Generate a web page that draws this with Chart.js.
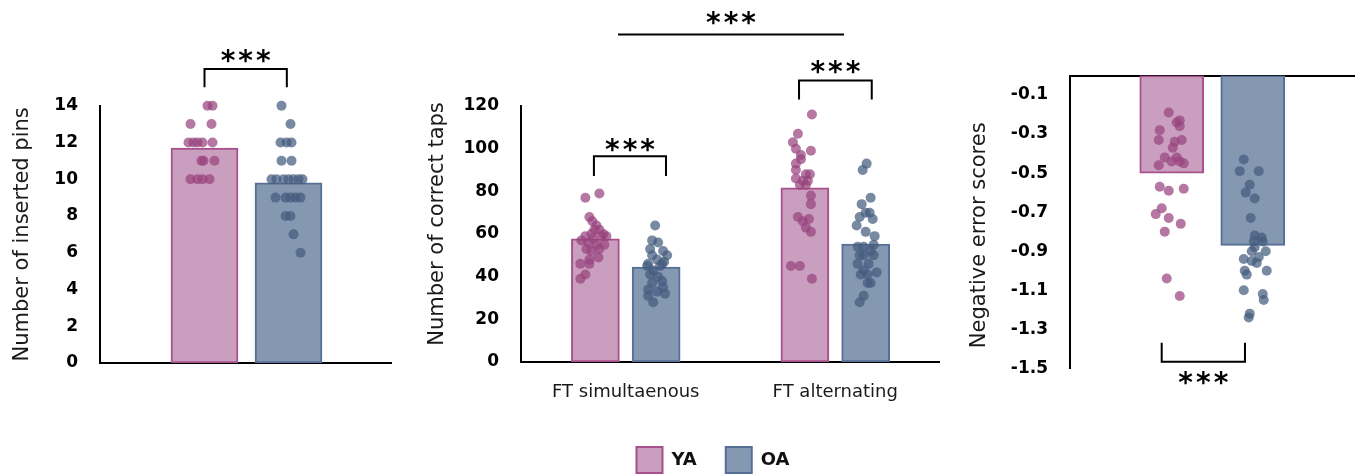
<!DOCTYPE html>
<html>
<head>
<meta charset="utf-8">
<title>Motor performance YA vs OA</title>
<script src="https://cdn.jsdelivr.net/npm/chart.js@4.4.1/dist/chart.umd.min.js"></script>
<style>
  html, body { margin: 0; padding: 0; background: #fff; }
  #wrap { position: relative; width: 1360px; height: 476px; overflow: hidden; }
  canvas { position: absolute; }
</style>
</head>
<body>
<div id="wrap">
  <canvas id="pins" width="1360" height="476" style="left:0;top:0"></canvas>
  <canvas id="taps" width="1360" height="476" style="left:0;top:0"></canvas>
  <canvas id="errors" width="1360" height="476" style="left:0;top:0"></canvas>
  <canvas id="legend" width="320" height="140" style="left:553px;top:418px"></canvas>
</div>
<script>
const groups = ['YA', 'OA'];

// Purdue pegboard: inserted pins
const pinsTicks = [0, 2, 4, 6, 8, 10, 12, 14];
const pinsMean = [11.7, 9.8];
const pinsYA = [14, 14, 13, 13, 12, 12, 12, 12, 12, 11, 11, 11, 10, 10, 10, 10];
const pinsOA = [14, 13, 12, 12, 12, 11, 11, 10, 10, 10, 10, 10, 10, 10, 9, 9, 9, 9, 9, 8, 8, 7, 6];

// finger tapping: correct taps
const tapCategories = ['FT simultaenous', 'FT alternating'];
const tapTicks = [0, 20, 40, 60, 80, 100, 120];
const tapMeanYA = [57.7, 81.6];
const tapMeanOA = [44.5, 55.3];
const tapSimYA = [79, 77, 68, 66, 64, 62, 62, 60, 60, 59, 59, 59, 58, 57, 56, 55, 55, 53, 53, 52, 49, 48, 46, 46, 41, 39];
const tapSimOA = [64, 57, 56, 53, 52, 50, 50, 48, 47, 46, 46, 45, 45, 43, 41, 40, 38, 37, 35, 34, 33, 32, 31, 28];
const tapAltYA = [116, 107, 103, 100, 99, 97, 95, 93, 90, 88, 88, 86, 85, 85, 83, 83, 78, 74, 68, 67, 66, 63, 61, 45, 45, 39];
const tapAltOA = [93, 90, 77, 74, 70, 70, 68, 67, 64, 61, 59, 55, 54, 54, 52, 50, 50, 50, 46, 46, 43, 42, 41, 41, 37, 37, 31, 28];

// negative error scores
const errTicks = [-1.5, -1.3, -1.1, -0.9, -0.7, -0.5, -0.3, -0.1];
const errMean = [-0.50, -0.87];
const errYA = [-0.19, -0.23, -0.24, -0.26, -0.28, -0.33, -0.33, -0.34, -0.37, -0.42, -0.42, -0.46, -0.44, -0.44, -0.45, -0.57, -0.59, -0.58, -0.68, -0.71, -0.73, -0.76, -0.80, -1.04, -1.13];
const errOA = [-0.43, -0.49, -0.49, -0.56, -0.60, -0.63, -0.73, -0.82, -0.83, -0.85, -0.85, -0.88, -0.90, -0.90, -0.94, -0.93, -0.95, -0.96, -1.00, -1.00, -1.02, -1.10, -1.12, -1.15, -1.22, -1.24];

// horizontal jitter of the dots, in pixels from the bar centre
const pinsYAJit = [3, 8, -14, 7, -16, -11, -7, -2, 8, -3, -1, 10, -14, -7, -2, 5];
const pinsOAJit = [-7, 2, -8, -2, 3, -7, 3, -17, -12, -5, 0, 5, 10, 14, -13, -3, 2, 7, 12, -3, 2, 5, 12];
const tapSimYAJit = [4, -10, -6, -3, 1, 4, -1, -4, 8, -10, 6, 11, -2, -14, -7, 1, 9, -9, 4, -4, 3, -6, -15, -6, -10, -15];
const tapSimOAJit = [-1, -4, 2, -6, 7, 11, -4, 1, 8, -8, 6, 4, -9, -3, -6, 2, 6, -4, 7, -8, 1, 9, -8, -3];
const tapAltYAJit = [7, -7, -12, -9, 6, -4, -4, -9, -9, 1, 5, -9, -2, 3, -5, 1, 6, 6, -7, 4, -2, 1, 6, -14, -5, 7];
const tapAltOAJit = [1, -3, 5, -4, 0, 4, -6, 7, -9, 0, 9, 8, -8, -2, 5, -6, -2, 8, -8, 3, -2, 11, -5, 2, 5, 2, -2, -6];
const errYAJit = [-3, 8, 5, 8, -12, 10, -13, 3, 1, -7, 5, -13, 0, 8, 12, -12, -3, 12, -10, -16, -3, 9, -7, -5, 8];
const errOAJit = [-9, -13, 6, -3, -7, 2, -2, 2, 9, 1, 10, 2, -1, 13, -9, 6, -1, 4, -8, 14, -6, -9, 10, 11, -3, -4];

const fillColors = ['#c99ebf', '#8598b1'];
const edgeColors = ['#a8508c', '#566f97'];
const dotColors = ['rgba(152, 68, 126, 0.72)', 'rgba(68, 92, 126, 0.72)'];
const nbsp = '\u00a0';

Chart.defaults.font.family = '"DejaVu Sans", sans-serif';
Chart.defaults.color = '#000';

// significance brackets with stars
const sigMarks = {
  id: 'sigMarks',
  afterDraw(chart, args, opts) {
    const { ctx } = chart;
    const x = chart.scales.x, y = chart.scales.y;
    ctx.save();
    ctx.lineWidth = 2;
    ctx.strokeStyle = '#000';
    ctx.fillStyle = '#000';
    ctx.font = 'bold 28px "DejaVu Sans"';
    ctx.letterSpacing = '3px';
    ctx.textAlign = 'center';
    ctx.textBaseline = 'alphabetic';
    const m = ctx.measureText('***');
    const mid = (m.actualBoundingBoxAscent - m.actualBoundingBoxDescent) / 2;
    (opts.items || []).forEach(b => {
      const x1 = x.getPixelForValue(b.from);
      const x2 = x.getPixelForValue(b.to);
      const yl = y.getPixelForValue(b.at);
      ctx.beginPath();
      if (b.leg !== undefined) {
        const yt = y.getPixelForValue(b.leg);
        ctx.moveTo(x1, yt);
        ctx.lineTo(x1, yl);
        ctx.lineTo(x2, yl);
        ctx.lineTo(x2, yt);
      } else {
        ctx.moveTo(x1, yl);
        ctx.lineTo(x2, yl);
      }
      ctx.stroke();
      ctx.fillText('***', (x1 + x2) / 2 + 1.5, yl - b.gap + mid);
    });
    ctx.restore();
  }
};

function bars(meansYA, meansOA, geo) {
  return [meansYA, meansOA].map((means, g) => ({
    type: 'bar',
    label: groups[g],
    data: means.map((v, i) => ({ x: i + 1 + (g ? geo.off : -geo.off), y: v })),
    backgroundColor: fillColors[g],
    borderColor: edgeColors[g],
    borderWidth: 2,
    borderSkipped: false,
    barThickness: geo.bar,
    grouped: false,
    order: 2
  }));
}

function dots(values, jitter, cat, g, geo) {
  return {
    type: 'scatter',
    data: values.map((v, i) => ({ x: cat + (g ? geo.off : -geo.off) + jitter[i] / geo.px, y: v })),
    pointRadius: 5,
    pointBackgroundColor: dotColors[g],
    pointBorderWidth: 0,
    clip: false,
    order: 1
  };
}

function xAxis(geo, opts) {
  return {
    type: 'linear',
    min: geo.min,
    max: geo.max,
    offset: false,
    position: opts.position || 'bottom',
    afterBuildTicks: s => { s.ticks = (opts.labels || []).map((l, i) => ({ value: i + 1 })); },
    afterFit: s => { s.height = opts.height || 0; },
    grid: { display: false, drawTicks: false },
    border: { display: true, color: '#000', width: 2 },
    ticks: {
      display: !!opts.labels,
      padding: 20,
      maxRotation: 0,
      autoSkip: false,
      color: '#1a1a1a',
      font: { size: 18 },
      callback: (v, i) => (opts.labels ? opts.labels[i] : '')
    }
  };
}

function yAxis(min, max, ticks, title, titleGap, width, digits) {
  return {
    min, max,
    afterBuildTicks: s => { s.ticks = ticks.map(v => ({ value: v })); },
    afterFit: s => { s.width = width; },
    grid: { display: false, drawTicks: false },
    border: { display: true, color: '#000', width: 2 },
    ticks: {
      padding: 22,
      color: '#000',
      font: { size: 17, weight: 'bold' },
      callback: v => v.toFixed(digits)
    },
    title: {
      display: true,
      text: title,
      color: '#1a1a1a',
      font: { size: 21 },
      padding: { top: titleGap, bottom: 0 }
    }
  };
}

const base = {
  responsive: false,
  animation: false,
  events: [],
  plugins: { legend: { display: false }, tooltip: { enabled: false } }
};

// left panel
const pinsGeo = { min: -0.744, max: 2.72, off: 0.5, px: 84, bar: 67 };
new Chart(document.getElementById('pins'), {
  type: 'bar',
  data: {
    datasets: [
      ...bars([pinsMean[0]], [pinsMean[1]], pinsGeo),
      dots(pinsYA, pinsYAJit, 1, 0, pinsGeo),
      dots(pinsOA, pinsOAJit, 1, 1, pinsGeo)
    ]
  },
  options: {
    ...base,
    layout: { padding: { left: 0, top: 105.7, right: 969, bottom: 113 } },
    scales: {
      x: xAxis(pinsGeo, {}),
      y: yAxis(0, 14, pinsTicks, 'Number of inserted pins', 10, 100, 0)
    },
    plugins: {
      ...base.plugins,
      sigMarks: { items: [{ from: 0.5, to: 1.48, at: 16, leg: 15, gap: 12.7 }] }
    }
  },
  plugins: [sigMarks]
});

// middle panel
const tapGeo = { min: 0.5, max: 2.495, off: 0.145, px: 209.5, bar: 48 };
new Chart(document.getElementById('taps'), {
  type: 'bar',
  data: {
    datasets: [
      ...bars(tapMeanYA, tapMeanOA, tapGeo),
      dots(tapSimYA, tapSimYAJit, 1, 0, tapGeo),
      dots(tapSimOA, tapSimOAJit, 1, 1, tapGeo),
      dots(tapAltYA, tapAltYAJit, 2, 0, tapGeo),
      dots(tapAltOA, tapAltOAJit, 2, 1, tapGeo)
    ]
  },
  options: {
    ...base,
    layout: { padding: { left: 400, top: 106, right: 421, bottom: 74 } },
    scales: {
      x: xAxis(tapGeo, { labels: tapCategories, height: 40 }),
      y: yAxis(0, 120, tapTicks, nbsp.repeat(3) + 'Number of correct taps', 25, 121, 0)
    },
    plugins: {
      ...base.plugins,
      sigMarks: {
        items: [
          { from: 0.963, to: 2.042, at: 153.5, gap: 16.3 },
          { from: 0.848, to: 1.192, at: 96.4, leg: 87.2, gap: 11 },
          { from: 1.827, to: 2.174, at: 132, leg: 123, gap: 13.3 }
        ]
      }
    }
  },
  plugins: [sigMarks]
});

// right panel
const errGeo = { min: -0.756, max: 2.75, off: 0.5, px: 81, bar: 64 };
new Chart(document.getElementById('errors'), {
  type: 'bar',
  data: {
    datasets: [
      ...bars([errMean[0]], [errMean[1]], errGeo),
      dots(errYA, errYAJit, 1, 0, errGeo),
      dots(errOA, errOAJit, 1, 1, errGeo)
    ]
  },
  options: {
    ...base,
    layout: { padding: { left: 950, top: 75.5, right: 6, bottom: 107.7 } },
    scales: {
      x: xAxis(errGeo, { position: 'top' }),
      y: yAxis(-1.5, 0, errTicks, 'Negative error scores' + nbsp.repeat(4), 17, 120, 1)
    },
    plugins: {
      ...base.plugins,
      sigMarks: { items: [{ from: 0.376, to: 1.404, at: -1.466, leg: -1.369, gap: -16.3 }] }
    }
  },
  plugins: [sigMarks]
});

// shared legend (its canvas runs past the page bottom so the legend box is not clipped)
new Chart(document.getElementById('legend'), {
  type: 'bar',
  data: {
    datasets: groups.map((g, i) => ({
      label: g,
      data: [],
      backgroundColor: fillColors[i],
      borderColor: edgeColors[i],
      borderWidth: 2
    }))
  },
  options: {
    responsive: false,
    animation: false,
    events: [],
    scales: { x: { display: false }, y: { display: false } },
    plugins: {
      tooltip: { enabled: false },
      legend: {
        position: 'top',
        labels: {
          boxWidth: 26,
          boxHeight: 26,
          padding: 29,
          color: '#111',
          font: { size: 18, weight: 'bold' }
        }
      }
    }
  }
});
</script>
</body>
</html>
